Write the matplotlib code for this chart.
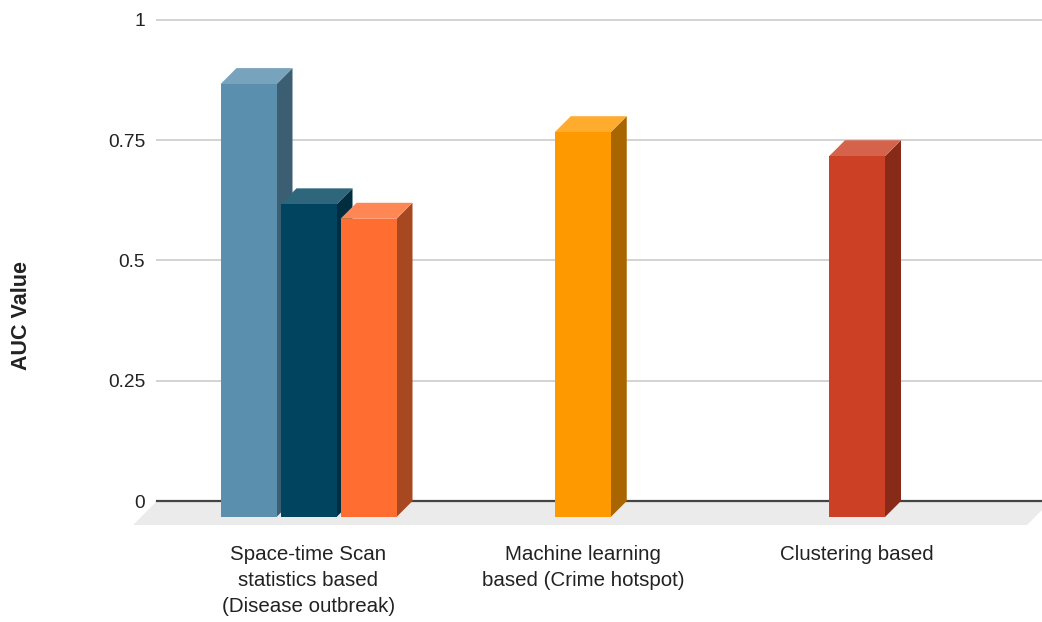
import matplotlib
matplotlib.use("Agg")
import matplotlib.pyplot as plt
from matplotlib.patches import Polygon
import numpy as np

plt.rcParams['font.family'] = ['Liberation Sans', 'DejaVu Sans']

# Data
categories = ["Space-time Scan\nstatistics based\n(Disease outbreak)",
              "Machine learning\nbased (Crime hotspot)",
              "Clustering based"]
# (category index, slot within group, AUC value, colour)
bar_group = [0, 0, 0, 1, 2]
bar_slot = [-1, 0, 1, 0, 0]
auc_values = [0.90, 0.65, 0.62, 0.80, 0.75]
bar_colors = ["#5a8fae", "#00445f", "#ff6d31", "#ff9900", "#cc4125"]
y_ticks = [0, 0.25, 0.5, 0.75, 1]
y_tick_labels = ["0", "0.25", "0.5", "0.75", "1"]


def shade(hex_color, factor):
    rgb = np.array(matplotlib.colors.to_rgb(hex_color))
    if factor >= 1:
        rgb = rgb + (1 - rgb) * (factor - 1)
    else:
        rgb = rgb * factor
    return tuple(np.clip(rgb, 0, 1))


W, H = 1042, 622
fig = plt.figure(figsize=(W / 100, H / 100), dpi=100)
# plot area (back wall) in pixels
left_px, right_px, top_px, base_px = 157, 1042, 20, 501
ax = fig.add_axes([left_px / W, 1 - base_px / H,
                   (right_px - left_px) / W, (base_px - top_px) / H])

group_px = 274.25          # pixel distance between category centres
first_center_px = 308.5
ax.set_xlim((left_px - first_center_px) / group_px,
            (right_px - first_center_px) / group_px)
ax.set_ylim(0, 1)
for s in ax.spines.values():
    s.set_visible(False)

# conversions from pixels to data units
px_x = 1 / group_px
px_y = 1 / (base_px - top_px)

bar_w = 56 * px_x
slot_w = 60 * px_x
depth_x = 16 * px_x
depth_y = 16 * px_y
floor_dx = 24 * px_x
floor_dy = 24 * px_y

x0, x1 = ax.get_xlim()
x1_front = x1 - 15 * px_x

# floor
floor = Polygon([(x0, 0), (x1_front + floor_dx, 0), (x1_front, -floor_dy), (x0 - floor_dx, -floor_dy)],
                closed=True, facecolor="#ebebeb", edgecolor="none", clip_on=False, zorder=1)
ax.add_patch(floor)

# gridlines
for t in y_ticks[1:]:
    ax.plot([x0, x1], [t, t], color="#d3d3d3", lw=1.4, zorder=2, clip_on=False)
ax.plot([x0, x1], [0, 0], color="#444444", lw=1.6, zorder=3, clip_on=False)

# 3D bars
for i, (g, s, v, c) in enumerate(zip(bar_group, bar_slot, auc_values, bar_colors)):
    cx = g + s * slot_w
    fl, fr = cx - bar_w / 2, cx + bar_w / 2
    fb, ft = -depth_y, v - depth_y
    z = 10 + i
    front = Polygon([(fl, fb), (fr, fb), (fr, ft), (fl, ft)], closed=True,
                    facecolor=c, edgecolor="none", zorder=z, clip_on=False)
    top = Polygon([(fl, ft), (fr, ft), (fr + depth_x, v), (fl + depth_x, v)], closed=True,
                  facecolor=shade(c, 1.18), edgecolor="none", zorder=z, clip_on=False)
    side = Polygon([(fr, fb), (fr + depth_x, 0), (fr + depth_x, v), (fr, ft)], closed=True,
                   facecolor=shade(c, 0.66), edgecolor="none", zorder=z, clip_on=False)
    for p in (side, top, front):
        ax.add_patch(p)

# axes ticks and labels
ax.set_yticks(y_ticks)
ax.set_yticklabels(y_tick_labels)
ax.set_xticks(range(len(categories)))
ax.set_xticklabels(categories, linespacing=1.45)
ax.tick_params(axis="y", length=0, pad=8.6, labelsize=13.8, labelcolor="#222222")
ax.tick_params(axis="x", length=0, pad=32, labelsize=14.8, labelcolor="#222222")

fig.text(22 / W, 1 - 315 / H, "AUC Value", rotation=90, ha="center", va="center",
         fontsize=15.5, fontweight="bold", color="#222222")

fig.savefig("out.png", dpi=100, facecolor="white")
